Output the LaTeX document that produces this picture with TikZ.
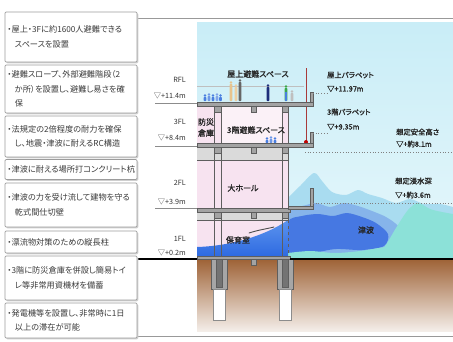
\documentclass[tikz,border=0pt]{standalone}
\usepackage{fontspec}
\setmainfont{Noto Sans CJK JP}[RawFeature=+palt]
\newfontfamily\tagfont{Noto Sans CJK JP}[RawFeature=+palt,FakeBold=1.5]
\definecolor{boxline}{HTML}{9C9C9C}
\definecolor{boxshade}{HTML}{CFCFCF}
\definecolor{txt}{HTML}{3A3A3A}
\definecolor{skytop}{HTML}{C9EDF7}
\definecolor{skybot}{HTML}{E6F7FB}
\definecolor{soiltop}{HTML}{9E6236}
\definecolor{soilmid}{HTML}{CFA888}
\definecolor{soilbot}{HTML}{F4EEE9}
\definecolor{pinkin}{HTML}{F7E3F0}
\definecolor{pinklt}{HTML}{FBF1F7}
\definecolor{ceil}{HTML}{DADADA}
\definecolor{slab}{HTML}{A3A3A3}
\definecolor{struct}{HTML}{5E5E5E}
\definecolor{wavepale}{HTML}{A9DCF0}
\definecolor{wavemid}{HTML}{86B4EA}
\definecolor{wavedeep}{HTML}{4678E2}
\definecolor{waveaqua}{HTML}{8CE1D8}
\definecolor{flood}{HTML}{2C68E0}
\definecolor{floodlt}{HTML}{5C94EE}
\definecolor{pole}{HTML}{A83A3A}
\definecolor{figblue}{HTML}{4A7FE0}
\definecolor{figtan}{HTML}{E8C48E}
\definecolor{fignavy}{HTML}{1D2D7A}
\definecolor{figgreen}{HTML}{3AA84A}
% small standing figure: x, feet y, height, colour
\newcommand{\personfig}[4]{%
  \fill[#4] ({#1},{#2-#3+1.4}) circle (1.4);
  \fill[#4, rounded corners=0.6pt] ({#1-1.3},{#2-#3+3}) rectangle ({#1+1.3},{#2});
}
\begin{document}
\begin{tikzpicture}[x=1pt,y=-1pt,
  infobox/.style={draw=boxline, line width=0.7pt, rounded corners=1.2pt, fill=white,
    minimum width=132pt, text width=127pt, inner xsep=2.5pt, inner ysep=2pt, align=left,
    font=\fontsize{8.2}{14.5}\selectfont, text=txt,
    preaction={fill=boxshade, transform canvas={shift={(1.3pt,-1.3pt)}}}},
  floorlbl/.style={font=\fontsize{7.2}{8}\selectfont, text=black!80, inner sep=0pt, anchor=east},
  tag/.style={font=\tagfont\fontsize{7.3}{9}\selectfont, text=black!85, inner sep=0pt, anchor=west},
  room/.style={font=\tagfont\fontsize{8}{9}\selectfont, text=black!85, inner sep=0pt},
  levelline/.style={draw=black!45, line width=0.6pt},
  leader/.style={draw=black!50, line width=0.7pt, dotted},
  slabbar/.style={fill=slab, draw=struct, line width=0.5pt},
  colline/.style={draw=struct, line width=0.6pt},
  frameline/.style={draw=black!40, line width=1pt},
]
\useasboundingbox (0,0) rectangle (453,341);
\fill[white] (0,0) rectangle (453,341);

% frame lines of the section
\draw[frameline] (137,18) -- (453,18);
\draw[frameline] (137,336) -- (453,336);

% sky and soil
\shade[top color=skytop, bottom color=skybot] (197,22) rectangle (453,259);
\shade[top color=soiltop, middle color=soilmid, bottom color=soilbot] (197,259) rectangle (453,331);

% tsunami layers outside the building
\fill[wavepale] plot[smooth] coordinates {(288,198) (300,186) (314,173) (322,181) (332,192) (346,195) (358,190) (368,194) (382,198) (396,203) (410,199) (424,204) (440,204) (453,207)} -- (453,259) -- (288,259) -- cycle;
\fill[wavemid] plot[smooth] coordinates {(288,207) (302,206) (316,203) (330,207) (344,203) (358,206) (372,211) (386,217) (398,226) (404,240)} -- (404,259) -- (288,259) -- cycle;
\fill[waveaqua] plot[smooth] coordinates {(372,259) (385,246) (396,228) (408,210) (418,203) (430,209) (442,212) (453,214)} -- (453,259) -- cycle;
\fill[wavedeep] plot[smooth cycle] coordinates {(288,222) (302,216) (318,214) (333,216) (347,213) (362,217) (376,223) (388,234) (384,246) (362,250) (336,249) (312,253) (290,254)};
\fill[waveaqua] plot[smooth] coordinates {(288,253) (310,251) (335,253) (360,251) (385,247) (410,244) (453,243)} -- (453,259) -- (288,259) -- cycle;

% building interior
\fill[pinkin] (197,106) rectangle (288,258);
\fill[pinklt] (222,106) rectangle (282,143);
\shade[top color=floodlt, bottom color=flood] (197,258) -- (197,247) .. controls (230,246) and (265,236) .. (288,220) -- (288,258) -- cycle;
\draw[black!70, line width=0.9pt, line cap=round] (249,233) .. controls (258,230) and (266,229) .. (274,227);
\fill[ceil] (197,147) rectangle (288,160);
\fill[ceil] (197,212) rectangle (288,220);
\draw[colline] (197,160) -- (288,160);
\draw[colline] (197,220) -- (288,220);

% columns and outer wall
\draw[colline] (214,106) -- (214,258);
\draw[colline] (221,106) -- (221,258);
\draw[colline] (282,106) -- (282,258);
\draw[colline] (288,106) -- (288,220);
\draw[colline, dashed] (288,220) -- (288,258);

% roof railing and evacuees
\draw[black!25, line width=0.6pt] (197,86) -- (304,86);
\personfig{205}{101}{7}{figblue}
\personfig{209}{101}{8}{figblue!80}
\personfig{213}{101}{7}{figblue}
\personfig{217}{101}{8}{figblue!70}
\personfig{220.5}{101}{7}{figblue}
\personfig{231}{101}{20}{figtan}
\personfig{236}{101}{17}{figtan!80}
\personfig{240}{101}{22}{black!60}
\personfig{268}{101}{17}{fignavy}
\personfig{286}{101}{16}{figgreen}
\fill[figblue] (284.8,92) rectangle (287.3,101);
\personfig{292}{101}{11}{black!25}
\personfig{267}{143}{6}{figblue}
\personfig{271}{143}{7}{figblue!80}
\personfig{275}{143}{6}{figblue}

% red pole on the balconies
\draw[pole, line width=1pt] (306,68) -- (306,142);
\fill[red!75!black] (306,142) circle (2);

% floor slabs, beams and parapets
\path[slabbar] (197,102) rectangle (313,106);
\path[slabbar] (197,143) rectangle (313,147);
\path[slabbar] (197,208) rectangle (290,212);
\path[slabbar] (288,206) rectangle (313,209);
\path[slabbar] (197,256) rectangle (290,259);
\path[slabbar] (310,92) rectangle (313,102);
\path[slabbar] (310,132) rectangle (313,143);
\path[slabbar] (310,188) rectangle (313,206);
\foreach \yy in {106,147,212,259} {
  \path[slabbar] (251,\yy) rectangle (256,\yy+6);
}
\foreach \yy in {106,147,212} {
  \path[slabbar] (214,\yy) rectangle (221,\yy+6);
  \path[slabbar] (282,\yy) rectangle (288,\yy+6);
}

% piles
\foreach \px in {219,285} {
  \path[fill=black!35, draw=struct, line width=0.5pt] (\px-8,259) rectangle (\px+8,289);
  \path[fill=black!55, draw=struct, line width=0.4pt] (\px-3,259) rectangle (\px+3,287);
  \path[fill=white, draw=black!45, line width=0.5pt] (\px-6,289) rectangle (\px+6,320);
}

% ground line
\draw[black, line width=1.8pt] (137,259) -- (197,259);
\draw[black, line width=1.8pt] (290,259) -- (453,259);

% floor levels
\node[floorlbl] (lvR) at (186,80) {RFL};
\node[floorlbl] (lvRv) at (186,96) {▽+11.4m};
\node[floorlbl] (lv3) at (186,122) {3FL};
\node[floorlbl] (lv3v) at (186,138) {▽+8.4m};
\node[floorlbl] (lv2) at (186,183) {2FL};
\node[floorlbl] (lv2v) at (186,202) {▽+3.9m};
\node[floorlbl] (lv1) at (186,239) {1FL};
\node[floorlbl] (lv1v) at (186,253) {▽+0.2m};
\draw[levelline] (155,103) -- (197,103);
\draw[levelline] (155,146) -- (197,146);
\draw[levelline] (155,208) -- (197,208);

% room names
\node[room] (rRoof) at (258,74) {屋上避難スペース};
\node[room] (rStore1) at (206,122) {防災};
\node[room] (rStore2) at (206,133) {倉庫};
\node[room] (r3) at (256,130) {3階避難スペース};
\node[room] (r2) at (243,188) {大ホール};
\node[room] (r1) at (238,240) {保育室};

% heights on the right
\node[tag] (tRoof) at (327,75) {屋上パラペット};
\node[tag] (tRoofv) at (327,89) {▽+11.97m};
\node[tag] (t3) at (327,112) {3階パラペット};
\node[tag] (t3v) at (327,127) {▽+9.35m};
\node[tag] (tSafe) at (396,132) {想定安全高さ};
\node[tag] (tSafev) at (396,144) {▽+約8.1m};
\node[tag] (tFlood) at (395,181) {想定浸水深};
\node[tag] (tFloodv) at (395,195) {▽+約3.6m};
\node[room] (tWave) at (366,230) {津波};

\coordinate (pRoof) at (313,93);
\coordinate (p3) at (313,133);
\coordinate (sSafe0) at (305,152);
\coordinate (sSafe1) at (453,152);
\coordinate (sFlood0) at (313,203);
\coordinate (sFlood1) at (453,203);
\draw[leader] (pRoof) -- (pRoof -| tRoofv.west);
\draw[leader] (p3) -- (p3 -| t3v.west);
\draw[leader] (sSafe0) -- (sSafe1);
\draw[leader] (sFlood0) -- (sFlood1);

% feature list
\node[infobox, minimum height=50pt] (b1) at (71,37) {・屋上・3Fに約1600人避難できる\\\hspace*{0.9em}スペースを設置};
\node[infobox, minimum height=48pt] (b2) at (71,89) {・避難スロープ、外部避難階段（2\\\hspace*{0.9em}か所）を設置し、避難し易さを確\\\hspace*{0.9em}保};
\node[infobox, minimum height=41pt] (b3) at (71,136.5) {・法規定の2倍程度の耐力を確保\\\hspace*{0.9em}し、地震・津波に耐えるRC構造};
\node[infobox, minimum height=20pt] (b4) at (71,169.5) {・津波に耐える場所打コンクリート杭};
\node[infobox, minimum height=44pt] (b5) at (71,205) {・津波の力を受け流して建物を守る\\\hspace*{0.9em}乾式間仕切壁};
\node[infobox, minimum height=22pt] (b6) at (71,242) {・漂流物対策のための縦長柱};
\node[infobox, minimum height=44pt] (b7) at (71,278) {・3階に防災倉庫を併設し簡易トイ\\\hspace*{0.9em}レ等非常用資機材を備蓄};
\node[infobox, minimum height=35pt] (b8) at (71,320.5) {・発電機等を設置し、非常時に1日\\\hspace*{0.9em}以上の滞在が可能};
\end{tikzpicture}
\end{document}
